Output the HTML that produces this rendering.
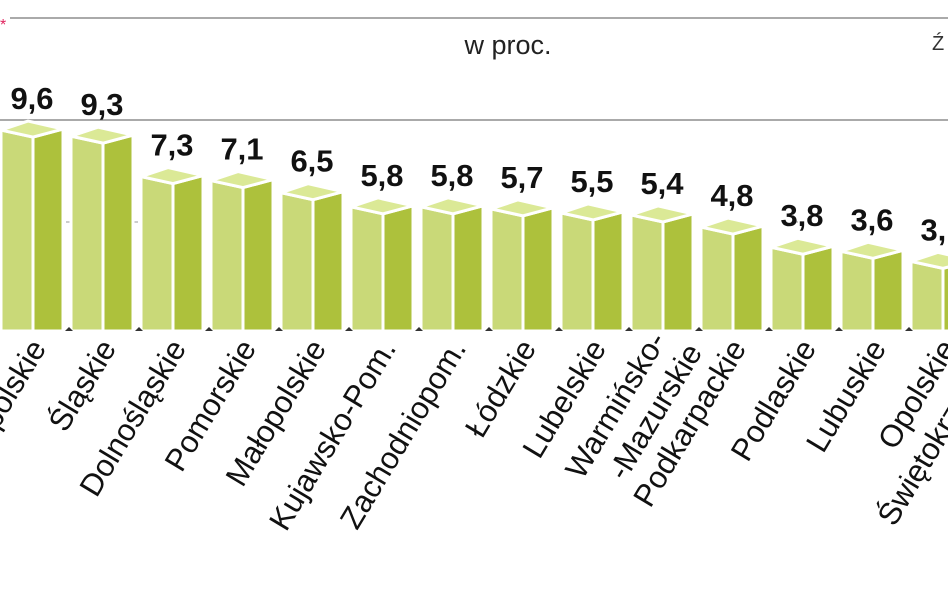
<!DOCTYPE html>
<html><head><meta charset="utf-8"><style>
html,body{margin:0;padding:0;background:#fff;width:948px;height:593px;overflow:hidden}
svg{display:block}
text{font-family:"Liberation Sans",sans-serif}
</style></head><body>
<svg id="s" width="948" height="593" xmlns="http://www.w3.org/2000/svg">
<line x1="10" y1="18" x2="948" y2="18" stroke="#aaa" stroke-width="2"/>
<line x1="0" y1="120" x2="948" y2="120" stroke="#aaa" stroke-width="2"/>
<line x1="0" y1="222" x2="948" y2="222" stroke="#999" stroke-width="1" stroke-dasharray="6,60"/>
<text x="0" y="30" fill="#e0245e" font-size="16">*</text>
<text x="508" y="54" font-size="27" text-anchor="middle" fill="#222">w proc.</text>
<text x="932" y="50" font-size="20" fill="#333">Ź</text>
<g id="bars"></g>
</svg>
<script>
var vals=[9.6,9.3,7.3,7.1,6.5,5.8,5.8,5.7,5.5,5.4,4.8,3.8,3.6,3.1];
var names=["Wielkopolskie","Śląskie","Dolnośląskie","Pomorskie","Małopolskie","Kujawsko-Pom.","Zachodniopom.","Łódzkie","Lubelskie",null,"Podkarpackie","Podlaskie","Lubuskie","Opolskie"];
var g=document.getElementById('bars'),h='';
var R='rotate(-59)';
for(var i=0;i<14;i++){
 var x=1+70*i,v=vals[i],y=324-20.2*v,b=331;
 h+='<polygon points="'+x+','+y+' '+(x+32)+','+(y+7)+' '+(x+32)+','+b+' '+x+','+b+'" fill="#c9d978" stroke="#fff" stroke-width="3"/>';
 h+='<polygon points="'+(x+32)+','+(y+7)+' '+(x+62)+','+(y-1)+' '+(x+62)+','+b+' '+(x+32)+','+b+'" fill="#adc13c" stroke="#fff" stroke-width="3"/>';
 h+='<polygon points="'+x+','+y+' '+(x+27)+','+(y-9)+' '+(x+62)+','+(y-1)+' '+(x+32)+','+(y+7)+'" fill="#dbe996" stroke="#fff" stroke-width="3"/>';
 h+='<text x="'+(x+31)+'" y="'+(y-21)+'" font-size="31" font-weight="bold" text-anchor="middle" fill="#111">'+String(v).replace('.',',')+'</text>';
 if(i>0)h+='<polygon points="'+(x-6)+','+b+' '+(x-2)+','+(b-4)+' '+(x+2)+','+b+'" fill="#333"/>';
 if(names[i]) h+='<text transform="translate('+(x+46)+',348) '+R+'" font-size="31" text-anchor="end" fill="#111">'+names[i]+'</text>';
}
var x=631;
h+='<text transform="translate('+(x+36)+',340) '+R+'" font-size="31" text-anchor="end" fill="#111">Warmińsko-</text>';
h+='<text transform="translate('+(x+72)+',352) '+R+'" font-size="31" text-anchor="end" fill="#111">-Mazurskie</text>';
h+='<text transform="translate(1000,352) '+R+'" font-size="31" text-anchor="end" fill="#111">Świętokrzyskie</text>';
g.innerHTML=h;
</script>
</body></html>
